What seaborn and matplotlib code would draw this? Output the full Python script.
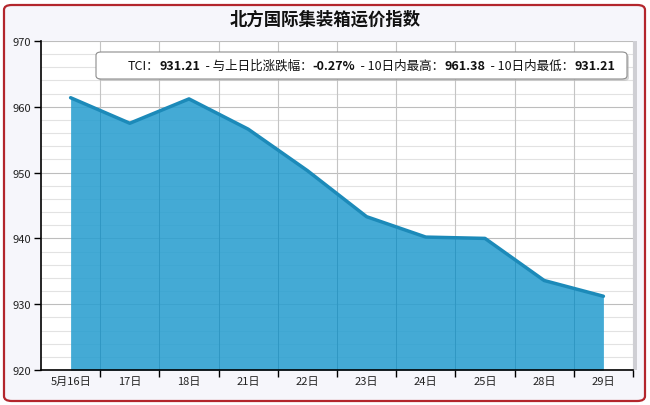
import numpy as np
import pandas as pd
import matplotlib
matplotlib.use('Agg')

import matplotlib.pyplot as plt
import seaborn as sns
from matplotlib.patches import FancyBboxPatch, Rectangle
from matplotlib.offsetbox import TextArea, HPacker, AnchoredOffsetbox

# 数据
dates = ["5月16日", "17日", "18日", "21日", "22日", "23日", "24日", "25日", "28日", "29日"]
tci = [961.38, 957.5, 961.2, 956.6, 950.3, 943.3, 940.2, 940.0, 933.6, 931.21]
y_ticks = [920, 930, 940, 950, 960, 970]
title = "北方国际集装箱运价指数"
info_parts = [("TCI：", False), ("931.21", True), ("  - 与上日比涨跌幅：", False), ("-0.27%", True),
              ("  - 10日内最高：", False), ("961.38", True), ("  - 10日内最低：", False), ("931.21", True)]

df = pd.DataFrame({"pos": np.arange(len(dates)), "tci": tci})

sns.set_theme(style="white")
plt.rcParams['font.family'] = ['Noto Sans CJK SC', 'DejaVu Sans']

fig = plt.figure(figsize=(6.5, 4.06), dpi=100)
fig.patch.set_facecolor("white")

# 外框（圆角）
border = FancyBboxPatch((4 / 650, 4 / 406), 641 / 650, 396 / 406,
                        boxstyle="round,pad=0,rounding_size=0.012",
                        transform=fig.transFigure, facecolor="#f6f6fb",
                        edgecolor="#b3262c", linewidth=1.6, zorder=-2)
fig.patches.append(border)

ax = fig.add_axes([41 / 650, 35 / 406, 592 / 650, 329 / 406])
ax.set_facecolor("white")

# 右侧阴影
fig.patches.append(Rectangle((633 / 650, 35 / 406), 4 / 650, 329 / 406,
                             transform=fig.transFigure, facecolor="#cfcfd4",
                             edgecolor="none", zorder=-1))

area = ax.fill_between(df["pos"], df["tci"], 920, color="#2a9fd0", alpha=0.88, linewidth=0, zorder=2)
sns.lineplot(data=df, x="pos", y="tci", ax=ax, color="#1c8ab9", linewidth=2.5, zorder=3)

ax.set_xlim(-0.5, len(dates) - 0.5)
ax.set_ylim(920, 970)

# 网格
for v in np.arange(920, 971, 2):
    major = v % 10 == 0
    ax.axhline(v, color="#bdbdbd" if major else "#e2e2e2", linewidth=0.8, zorder=1)
for b in np.arange(0.5, len(dates), 1):
    ax.axvline(b, color="#c4c4c4", linewidth=0.8, zorder=1)
    ln = ax.axvline(b, color="#1d86b3", linewidth=0.7, alpha=0.4, zorder=2.5)
    ln.set_clip_path(area.get_paths()[0], ax.transData)

ax.set_yticks(y_ticks)
ax.set_yticklabels([str(v) for v in y_ticks], fontsize=8, color="#222222")
ax.set_xticks(np.arange(0.5, len(dates), 1))
ax.set_xticklabels([])
ax.set_xticks(np.arange(len(dates)), minor=True)
ax.set_xticklabels(dates, minor=True, fontsize=8, color="#222222")
ax.tick_params(axis="x", which="major", direction="out", length=5, width=1, color="black", bottom=True)
ax.tick_params(axis="x", which="minor", length=0, pad=4)
ax.tick_params(axis="y", which="major", direction="out", length=5, width=1, color="black", left=True, pad=2)
ax.set_xlabel("")
ax.set_ylabel("")

for s in ["top", "right"]:
    ax.spines[s].set_visible(False)
ax.spines["left"].set_color("black")
ax.spines["bottom"].set_color("black")
ax.spines["left"].set_linewidth(1.2)
ax.spines["bottom"].set_linewidth(1.2)

fig.text(0.5, 1 - 20 / 406, title, ha="center", va="center", fontsize=12.5, fontweight="bold", color="#111111")

# 提示框
shadow = FancyBboxPatch((98 / 650, 1 - 82 / 406), 531 / 650, 27 / 406,
                        boxstyle="round,pad=0,rounding_size=0.008",
                        transform=fig.transFigure, facecolor="#bbbbbb",
                        edgecolor="none", alpha=0.6, zorder=4)
tip = FancyBboxPatch((96 / 650, 1 - 80 / 406), 531 / 650, 27 / 406,
                     boxstyle="round,pad=0,rounding_size=0.008",
                     transform=fig.transFigure, facecolor="white",
                     edgecolor="#8c8c8c", linewidth=0.8, zorder=5)
fig.add_artist(shadow)
fig.add_artist(tip)

parts = [TextArea(t, textprops=dict(fontsize=9, fontweight="bold" if b else "normal", color="#111111"))
         for t, b in info_parts]
pack = HPacker(children=parts, align="baseline", pad=0, sep=0)
box = AnchoredOffsetbox(loc="center", child=pack, pad=0, frameon=False,
                        bbox_to_anchor=(371.5 / 650, 1 - 66.5 / 406), bbox_transform=fig.transFigure,
                        borderpad=0)
box.set_zorder(6)
fig.add_artist(box)

fig.savefig("out.png", dpi=100, facecolor=fig.get_facecolor())
